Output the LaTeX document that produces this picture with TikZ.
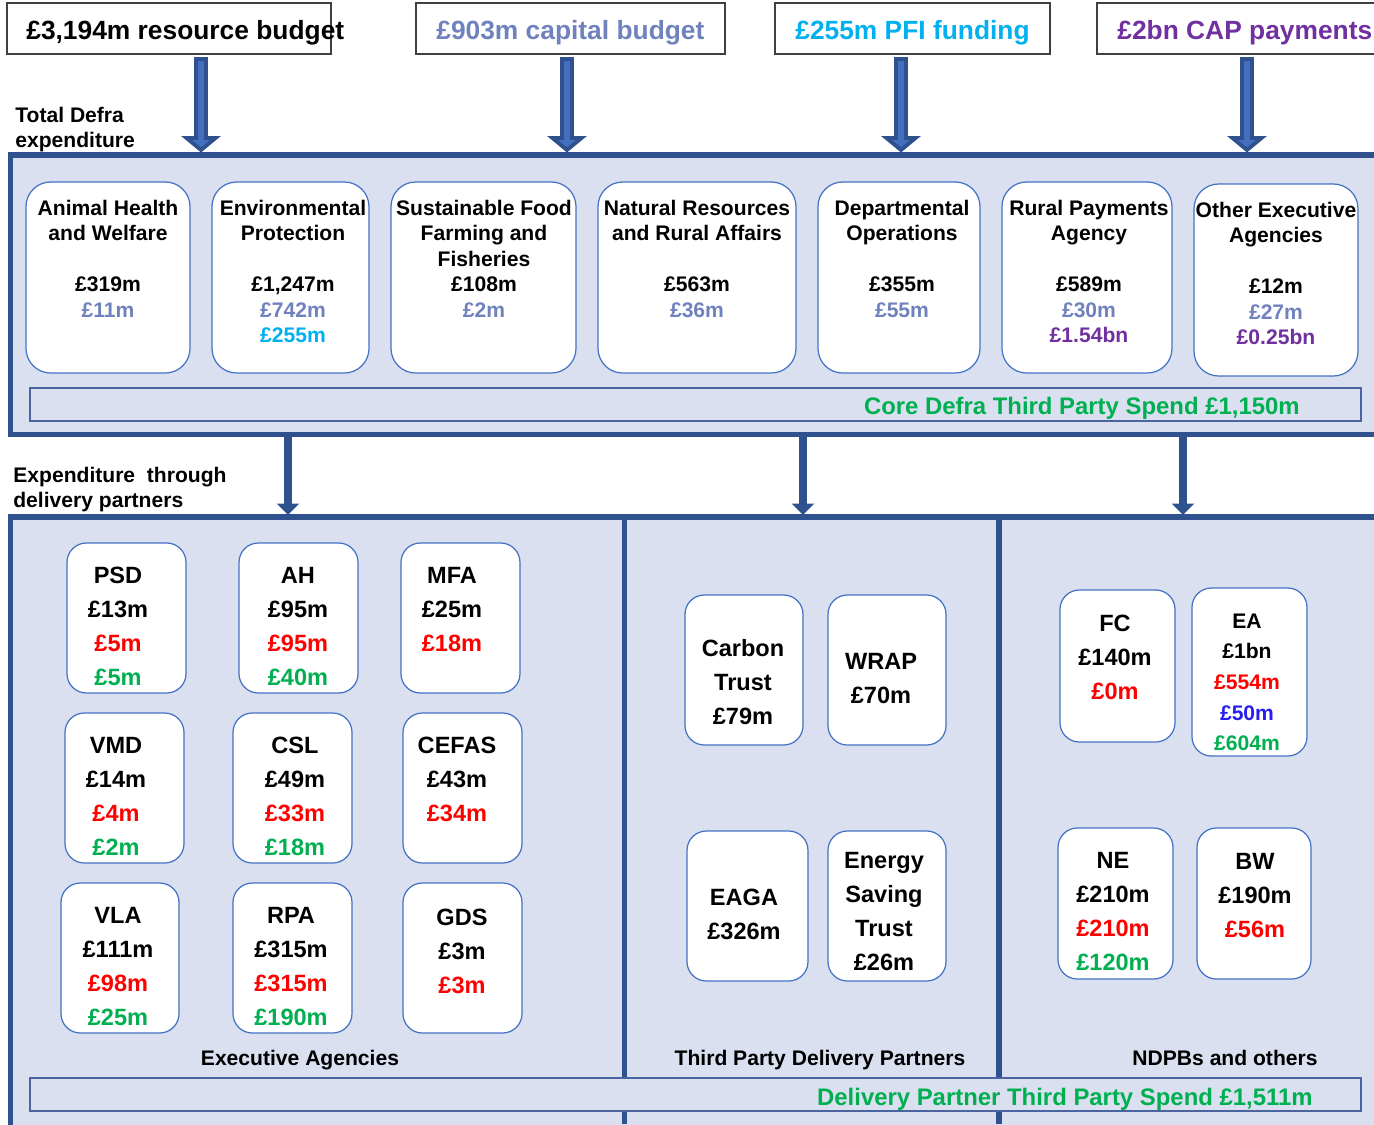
\documentclass[tikz,border=0pt]{standalone}
\usepackage{fontspec}
\setmainfont{Liberation Sans}
\usepackage{tikz}
\usetikzlibrary{calc,fit,arrows.meta}
\definecolor{panelblue}{RGB}{218,224,240}
\definecolor{edgeblue}{RGB}{47,82,143}
\definecolor{boxblue}{RGB}{68,114,196}
\definecolor{stripblue}{RGB}{74,100,160}
\definecolor{arrowfill}{RGB}{68,110,190}
\definecolor{capgrey}{RGB}{112,130,190}
\definecolor{pficyan}{RGB}{0,176,240}
\definecolor{cappurple}{RGB}{112,48,160}
\definecolor{spendgreen}{RGB}{0,176,80}
\definecolor{ndpbblue}{RGB}{40,30,240}
\def\cg#1{\textcolor{capgrey}{#1}}
\def\rd#1{\textcolor{red}{#1}}
\def\gr#1{\textcolor{spendgreen}{#1}}
\def\bigarrow#1{\draw[bigarrow] (#1-5,59) -- (#1+5,59) -- (#1+5,138) -- (#1+14.5,138) -- (#1,150) -- (#1-14.5,138) -- (#1-5,138) -- cycle;}

\begin{document}
\begin{tikzpicture}[x=0.2mm,y=-0.2mm,
    panel/.style={draw=edgeblue,line width=2.9pt,fill=panelblue,inner sep=0pt},
    strip/.style={draw=stripblue,line width=0.8pt,fill=panelblue,inner sep=0pt},
    titlebox/.style={draw=black!75,line width=0.75pt,fill=white,inner sep=0pt},
    upbox/.style={draw=boxblue,line width=0.7pt,fill=white,rounded corners=14pt,inner sep=0pt},
    lowbox/.style={draw=boxblue,line width=0.7pt,fill=white,rounded corners=11pt,inner sep=0pt},
    bigarrow/.style={draw=edgeblue,line width=2.2pt,fill=arrowfill,line join=miter},
    midarrow/.style={draw=edgeblue,line width=4.5pt,-{Triangle[width=12.5pt,length=6.5pt]}},
    divider/.style={draw=edgeblue,line width=2.9pt},
    titletext/.style={anchor=base west,inner sep=0pt,font=\bfseries\fontsize{15}{18}\selectfont},
    headtext/.style={anchor=north west,align=left,inner sep=0pt,font=\bfseries\fontsize{12}{14.2}\selectfont},
    uptext/.style={anchor=north,align=center,inner sep=0pt,font=\bfseries\fontsize{12}{14.5}\selectfont},
    lowtext/.style={anchor=north,align=center,inner sep=0pt,font=\bfseries\fontsize{13.4}{19.4}\selectfont},
    eatext/.style={anchor=north,align=center,inner sep=0pt,font=\bfseries\fontsize{12}{17.4}\selectfont},
    grouptext/.style={anchor=base,inner sep=0pt,font=\bfseries\fontsize{12}{14}\selectfont},
    spendtext/.style={anchor=base east,inner sep=0pt,text=spendgreen,font=\bfseries\fontsize{13.6}{16}\selectfont}]
  \useasboundingbox (0,0) rectangle (1374,1124);
  \clip (0,0) rectangle (1374,1124);

  % budget titles
  \node[titlebox,fit={(7,3) (331,54)}] (resbox) {};
  \node[titletext] (res) at (26,39.5) {£3,194m resource budget};
  \node[titlebox,fit={(416,3) (725,54)}] (capbox) {};
  \node[titletext,text=capgrey] (cap) at (436,39.5) {£903m capital budget};
  \node[titlebox,fit={(775,3) (1050,54)}] (pfibox) {};
  \node[titletext,text=pficyan] (pfi) at (795,39.5) {£255m PFI funding};
  \node[titlebox,fit={(1097,3) (1395,54)}] (capaybox) {};
  \node[titletext,text=cappurple] (capay) at (1117,39.5) {£2bn CAP payments};

  \node[headtext] (total) at (15,106.5) {Total Defra\\expenditure};

  % core defra panel
  \node[panel,fit={(10.5,155) (1395,434.5)}] (defra) {};
  \bigarrow{201}
  \bigarrow{567}
  \bigarrow{901}
  \bigarrow{1247}

  \node[upbox,fit={(26,182) (190,373)}] (ahwbox) {};
  \node[uptext] (ahw) at (108,199.5) {Animal Health\\and Welfare\\[14.5pt]£319m\\\cg{£11m}};
  \node[upbox,fit={(212,182) (369,373)}] (envbox) {};
  \node[uptext] (env) at (293,199.5) {Environmental\\Protection\\[14.5pt]£1,247m\\\cg{£742m}\\\textcolor{pficyan}{£255m}};
  \node[upbox,fit={(391,182) (576,373)}] (sffbox) {};
  \node[uptext] (sff) at (484,199.5) {Sustainable Food\\Farming and\\Fisheries\\£108m\\\cg{£2m}};
  \node[upbox,fit={(598,182) (796,373)}] (nrrbox) {};
  \node[uptext] (nrr) at (697,199.5) {Natural Resources\\and Rural Affairs\\[14.5pt]£563m\\\cg{£36m}};
  \node[upbox,fit={(818,182) (980,373)}] (dopbox) {};
  \node[uptext] (dop) at (902,199.5) {Departmental\\Operations\\[14.5pt]£355m\\\cg{£55m}};
  \node[upbox,fit={(1002,182) (1172,373)}] (rpabox) {};
  \node[uptext] (rpa) at (1089,199.5) {Rural Payments\\Agency\\[14.5pt]£589m\\\cg{£30m}\\\textcolor{cappurple}{£1.54bn}};
  \node[upbox,fit={(1194,184) (1358,376)}] (oeabox) {};
  \node[uptext] (oea) at (1276,201.5) {Other Executive\\Agencies\\[14.5pt]£12m\\\cg{£27m}\\\textcolor{cappurple}{£0.25bn}};

  \node[strip,fit={(30,388) (1361,421)}] (corestrip) {};
  \node[spendtext] (core) at (1300,414.5) {Core Defra Third Party Spend £1,150m};

  % delivery partners
  \node[headtext] (through) at (13,466.5) {Expenditure\ \ through\\delivery partners};
  \node[panel,fit={(10.5,517) (1395,1140)}] (partners) {};
  \draw[divider] (624.5,517) -- (624.5,1124);
  \draw[divider] (999,517) -- (999,1124);
  \coordinate (eatop) at (288,437);
  \coordinate (eabot) at (288,515);
  \coordinate (tptop) at (803,437);
  \coordinate (tpbot) at (803,515);
  \coordinate (ndtop) at (1183,437);
  \coordinate (ndbot) at (1183,515);
  \draw[midarrow] (eatop) -- (eabot);
  \draw[midarrow] (tptop) -- (tpbot);
  \draw[midarrow] (ndtop) -- (ndbot);

  % executive agencies
  \node[lowbox,fit={(67,543) (186,693)}] (psdbox) {};
  \node[lowtext] (psd) at (118,566.6) {PSD\\£13m\\\rd{£5m}\\\gr{£5m}};
  \node[lowbox,fit={(239,543) (358,693)}] (ahbox) {};
  \node[lowtext] (ah) at (298,566.6) {AH\\£95m\\\rd{£95m}\\\gr{£40m}};
  \node[lowbox,fit={(401,543) (520,693)}] (mfabox) {};
  \node[lowtext] (mfa) at (452,566.6) {MFA\\£25m\\\rd{£18m}};
  \node[lowbox,fit={(65,713) (184,863)}] (vmdbox) {};
  \node[lowtext] (vmd) at (116,736.6) {VMD\\£14m\\\rd{£4m}\\\gr{£2m}};
  \node[lowbox,fit={(233,713) (352,863)}] (cslbox) {};
  \node[lowtext] (csl) at (295,736.6) {CSL\\£49m\\\rd{£33m}\\\gr{£18m}};
  \node[lowbox,fit={(403,713) (522,863)}] (cefasbox) {};
  \node[lowtext] (cefas) at (457,736.6) {CEFAS\\£43m\\\rd{£34m}};
  \node[lowbox,fit={(61,883) (179,1033)}] (vlabox) {};
  \node[lowtext] (vla) at (118,906.6) {VLA\\£111m\\\rd{£98m}\\\gr{£25m}};
  \node[lowbox,fit={(233,883) (352,1033)}] (rpaebox) {};
  \node[lowtext] (rpae) at (291,906.6) {RPA\\£315m\\\rd{£315m}\\\gr{£190m}};
  \node[lowbox,fit={(403,883) (522,1033)}] (gdsbox) {};
  \node[lowtext] (gds) at (462,908.6) {GDS\\£3m\\\rd{£3m}};
  \node[grouptext] (exag) at (300,1065.5) {Executive Agencies};

  % third party delivery partners
  \node[lowbox,fit={(685,595) (803,745)}] (ctbox) {};
  \node[lowtext] (ct) at (743,638.6) {Carbon\\Trust\\£79m};
  \node[lowbox,fit={(828,595) (946,745)}] (wrapbox) {};
  \node[lowtext] (wrap) at (881,652.6) {WRAP\\£70m};
  \node[lowbox,fit={(687,831) (808,981)}] (eagabox) {};
  \node[lowtext] (eaga) at (744,888.6) {EAGA\\£326m};
  \node[lowbox,fit={(828,831) (946,981)}] (estbox) {};
  \node[lowtext] (est) at (884,851.6) {Energy\\Saving\\Trust\\£26m};
  \node[grouptext] (tpdp) at (820,1065.5) {Third Party Delivery Partners};

  % NDPBs
  \node[lowbox,fit={(1060,590) (1175,742)}] (fcbox) {};
  \node[lowtext] (fc) at (1115,614.6) {FC\\£140m\\\rd{£0m}};
  \node[lowbox,fit={(1192,588) (1307,756)}] (eabox) {};
  \node[eatext] (ea) at (1247,613.5) {EA\\£1bn\\\rd{£554m}\\\textcolor{ndpbblue}{£50m}\\\gr{£604m}};
  \node[lowbox,fit={(1058,828) (1173,979)}] (nebox) {};
  \node[lowtext] (ne) at (1113,851.6) {NE\\£210m\\\rd{£210m}\\\gr{£120m}};
  \node[lowbox,fit={(1197,828) (1311,979)}] (bwbox) {};
  \node[lowtext] (bw) at (1255,852.6) {BW\\£190m\\\rd{£56m}};
  \node[grouptext] (ndpb) at (1225,1065.5) {NDPBs and others};

  \node[strip,fit={(30,1078) (1361,1111)}] (dpstrip) {};
  \node[spendtext] (dpspend) at (1313,1105.5) {Delivery Partner Third Party Spend £1,511m};
\end{tikzpicture}
\end{document}
